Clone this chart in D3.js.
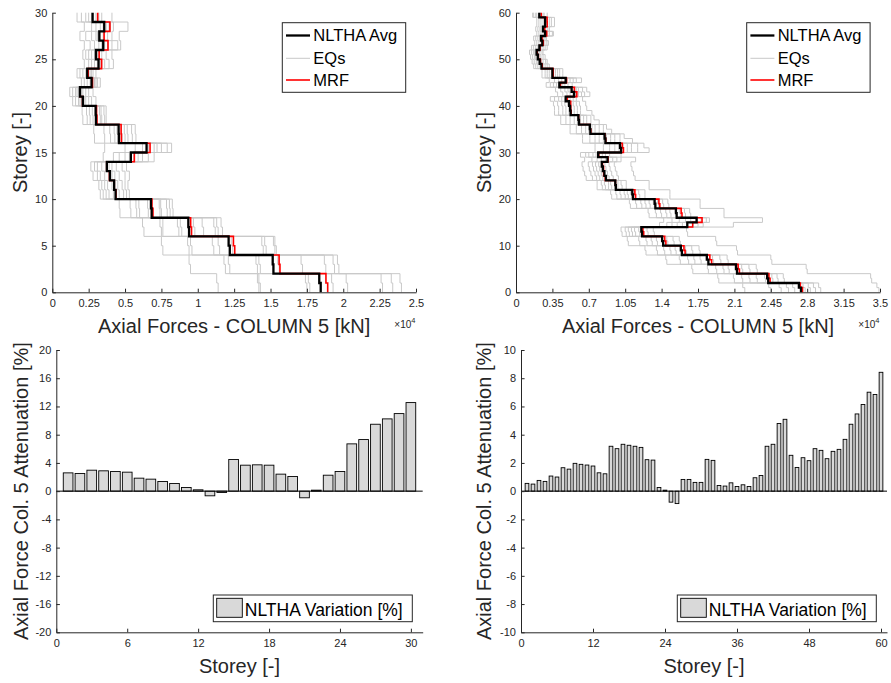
<!DOCTYPE html>
<html>
<head>
<meta charset="utf-8">
<script src="https://cdn.jsdelivr.net/npm/d3@7"></script>
<style>
  body { margin: 0; background: #fff; }
  svg { display: block; }
</style>
</head>
<body>
<svg id="fig" width="891" height="683"></svg>
<script>
// ---------------- data (axial forces in 1e4 kN, variation in %) ----------------

// 30-storey building: NLTHA average and MRF envelope, storey 1..30
const avgL = [1.845, 1.835, 1.52, 1.515, 1.22, 1.212, 0.94, 0.935, 0.683, 0.678,
              0.435, 0.425, 0.396, 0.375, 0.54, 0.648, 0.458, 0.456, 0.30, 0.298,
              0.21, 0.19, 0.27, 0.24, 0.318, 0.30, 0.35, 0.323, 0.357, 0.277];
const mrfL = [1.893, 1.881, 1.565, 1.559, 1.254, 1.245, 0.957, 0.951, 0.692, 0.685,
              0.437, 0.426, 0.393, 0.374, 0.564, 0.672, 0.475, 0.473, 0.307, 0.304,
              0.208, 0.190, 0.276, 0.247, 0.339, 0.322, 0.383, 0.356, 0.396, 0.312];
// per-storey values of the 10 ground motions (rows = storey 1..30)
const eqRowsL = [
  [1.14, 1.42, 1.43, 1.75, 1.77, 1.93, 2.03, 2.27, 2.34, 2.40],
  [1.13, 1.41, 1.42, 1.74, 1.76, 1.92, 2.02, 2.26, 2.33, 2.39],
  [0.95, 1.19, 1.22, 1.41, 1.43, 1.56, 1.72, 1.88, 1.94, 1.97],
  [0.94, 1.18, 1.21, 1.40, 1.42, 1.55, 1.71, 1.87, 1.93, 1.96],
  [0.76, 0.94, 0.96, 1.11, 1.15, 1.24, 1.45, 1.47, 1.53, 1.54],
  [0.75, 0.93, 0.95, 1.10, 1.14, 1.23, 1.44, 1.46, 1.52, 1.53],
  [0.63, 0.75, 0.76, 0.87, 0.89, 0.98, 1.04, 1.12, 1.14, 1.17],
  [0.62, 0.74, 0.76, 0.86, 0.88, 0.97, 1.03, 1.11, 1.13, 1.16],
  [0.465, 0.54, 0.58, 0.60, 0.66, 0.74, 0.75, 0.79, 0.81, 0.83],
  [0.46, 0.535, 0.575, 0.595, 0.655, 0.735, 0.745, 0.785, 0.805, 0.825],
  [0.33, 0.35, 0.37, 0.39, 0.42, 0.44, 0.46, 0.49, 0.51, 0.53],
  [0.32, 0.34, 0.36, 0.38, 0.41, 0.43, 0.45, 0.48, 0.50, 0.52],
  [0.28, 0.31, 0.33, 0.36, 0.39, 0.41, 0.43, 0.46, 0.50, 0.53],
  [0.265, 0.29, 0.31, 0.34, 0.37, 0.39, 0.41, 0.44, 0.48, 0.51],
  [0.35, 0.42, 0.46, 0.50, 0.53, 0.56, 0.59, 0.62, 0.66, 0.70],
  [0.36, 0.50, 0.57, 0.62, 0.66, 0.70, 0.72, 0.75, 0.79, 0.82],
  [0.29, 0.36, 0.40, 0.43, 0.45, 0.48, 0.50, 0.52, 0.55, 0.575],
  [0.285, 0.355, 0.395, 0.425, 0.445, 0.475, 0.495, 0.515, 0.545, 0.57],
  [0.21, 0.24, 0.26, 0.28, 0.30, 0.31, 0.33, 0.34, 0.36, 0.37],
  [0.205, 0.235, 0.255, 0.275, 0.295, 0.305, 0.325, 0.335, 0.355, 0.37],
  [0.14, 0.16, 0.18, 0.19, 0.20, 0.22, 0.23, 0.25, 0.27, 0.30],
  [0.12, 0.14, 0.16, 0.17, 0.18, 0.20, 0.21, 0.23, 0.25, 0.28],
  [0.20, 0.22, 0.24, 0.26, 0.27, 0.28, 0.29, 0.30, 0.31, 0.33],
  [0.17, 0.19, 0.21, 0.23, 0.24, 0.25, 0.26, 0.27, 0.28, 0.30],
  [0.22, 0.25, 0.27, 0.29, 0.31, 0.33, 0.34, 0.36, 0.39, 0.42],
  [0.21, 0.23, 0.25, 0.27, 0.29, 0.31, 0.32, 0.34, 0.37, 0.41],
  [0.22, 0.26, 0.29, 0.32, 0.34, 0.36, 0.38, 0.41, 0.45, 0.47],
  [0.19, 0.23, 0.27, 0.30, 0.31, 0.33, 0.35, 0.38, 0.41, 0.46],
  [0.22, 0.27, 0.30, 0.33, 0.35, 0.37, 0.39, 0.40, 0.42, 0.52],
  [0.17, 0.20, 0.23, 0.25, 0.27, 0.28, 0.30, 0.32, 0.34, 0.41]
];
const pctL = [2.59, 2.50, 2.97, 2.88, 2.78, 2.69, 1.84, 1.70, 1.37, 1.08,
              0.52, 0.19, -0.66, -0.19, 4.48, 3.68, 3.73, 3.68, 2.41, 2.08,
              -0.94, 0.14, 2.26, 2.78, 6.70, 7.31, 9.48, 10.24, 10.99, 12.55];

// 60-storey building, storey 1..60
const avgR = [2.74, 2.72, 2.425, 2.415, 2.125, 2.115, 1.85, 1.835, 1.595, 1.585,
              1.415, 1.405, 1.212, 1.205, 1.647, 1.737, 1.545, 1.538, 1.34, 1.333,
              1.125, 1.118, 0.96, 0.955, 0.865, 0.85, 0.835, 0.825, 0.88, 0.79,
              1.01, 1.0, 0.86, 0.852, 0.715, 0.71, 0.605, 0.60, 0.525, 0.52,
              0.51, 0.478, 0.558, 0.535, 0.417, 0.478, 0.35, 0.35, 0.245, 0.228,
              0.21, 0.198, 0.225, 0.253, 0.24, 0.28, 0.26, 0.28, 0.28, 0.224];
const mrfR = [2.755, 2.734, 2.443, 2.432, 2.148, 2.136, 1.881, 1.864, 1.626, 1.615,
              1.441, 1.430, 1.228, 1.220, 1.699, 1.789, 1.596, 1.588, 1.383, 1.374,
              1.150, 1.143, 0.962, 0.956, 0.858, 0.843, 0.842, 0.832, 0.885, 0.795,
              1.033, 1.022, 0.863, 0.855, 0.719, 0.712, 0.608, 0.602, 0.530, 0.526,
              0.526, 0.494, 0.585, 0.562, 0.428, 0.486, 0.358, 0.358, 0.252, 0.235,
              0.215, 0.204, 0.232, 0.262, 0.251, 0.295, 0.276, 0.300, 0.299, 0.243];
const eqRowsR = [
  [2.20, 2.45, 2.55, 2.62, 2.68, 2.78, 2.83, 2.88, 2.93, 3.49],
  [2.18, 2.43, 2.53, 2.60, 2.66, 2.76, 2.81, 2.86, 2.91, 3.47],
  [1.95, 2.10, 2.18, 2.25, 2.32, 2.40, 2.47, 2.52, 2.58, 3.42],
  [1.94, 2.09, 2.17, 2.24, 2.31, 2.39, 2.46, 2.51, 2.57, 3.41],
  [1.70, 1.85, 1.93, 2.00, 2.05, 2.12, 2.18, 2.25, 2.32, 2.80],
  [1.69, 1.84, 1.92, 1.99, 2.04, 2.11, 2.17, 2.24, 2.31, 2.79],
  [1.45, 1.58, 1.66, 1.72, 1.78, 1.84, 1.90, 1.97, 2.04, 2.46],
  [1.44, 1.57, 1.65, 1.71, 1.77, 1.83, 1.89, 1.96, 2.03, 2.45],
  [1.25, 1.36, 1.43, 1.49, 1.54, 1.59, 1.64, 1.70, 1.77, 2.13],
  [1.24, 1.35, 1.42, 1.48, 1.53, 1.58, 1.63, 1.69, 1.76, 2.12],
  [1.08, 1.19, 1.26, 1.31, 1.36, 1.41, 1.46, 1.52, 1.58, 1.93],
  [1.07, 1.18, 1.25, 1.30, 1.35, 1.40, 1.45, 1.51, 1.57, 1.92],
  [1.02, 1.06, 1.09, 1.12, 1.15, 1.19, 1.22, 1.27, 1.33, 1.65],
  [1.01, 1.05, 1.08, 1.11, 1.14, 1.18, 1.21, 1.26, 1.32, 1.64],
  [1.38, 1.45, 1.50, 1.55, 1.60, 1.65, 1.70, 1.75, 1.80, 2.09],
  [1.42, 1.50, 1.57, 1.63, 1.68, 1.73, 1.78, 1.83, 1.86, 2.37],
  [1.28, 1.35, 1.40, 1.45, 1.49, 1.54, 1.58, 1.63, 1.68, 2.00],
  [1.27, 1.34, 1.39, 1.44, 1.48, 1.53, 1.57, 1.62, 1.67, 2.00],
  [1.10, 1.16, 1.21, 1.25, 1.29, 1.33, 1.37, 1.42, 1.47, 1.77],
  [1.09, 1.15, 1.20, 1.24, 1.28, 1.32, 1.36, 1.41, 1.46, 1.77],
  [0.92, 0.97, 1.01, 1.05, 1.08, 1.11, 1.15, 1.19, 1.24, 1.48],
  [0.91, 0.96, 1.00, 1.04, 1.07, 1.10, 1.14, 1.18, 1.24, 1.48],
  [0.78, 0.83, 0.86, 0.89, 0.92, 0.95, 0.98, 1.02, 1.06, 1.28],
  [0.78, 0.82, 0.85, 0.89, 0.91, 0.95, 0.98, 1.01, 1.06, 1.28],
  [0.675, 0.735, 0.775, 0.805, 0.835, 0.865, 0.895, 0.935, 0.985, 1.145],
  [0.66, 0.72, 0.76, 0.79, 0.82, 0.85, 0.88, 0.92, 0.97, 1.13],
  [0.645, 0.705, 0.745, 0.775, 0.805, 0.835, 0.865, 0.905, 0.955, 1.115],
  [0.635, 0.695, 0.735, 0.765, 0.795, 0.825, 0.855, 0.895, 0.945, 1.105],
  [0.66, 0.73, 0.78, 0.82, 0.86, 0.89, 0.93, 0.97, 1.01, 1.15],
  [0.62, 0.67, 0.70, 0.74, 0.77, 0.80, 0.83, 0.86, 0.90, 1.01],
  [0.76, 0.84, 0.90, 0.95, 0.99, 1.03, 1.07, 1.11, 1.17, 1.28],
  [0.76, 0.84, 0.90, 0.95, 0.99, 1.03, 1.07, 1.11, 1.17, 1.23],
  [0.64, 0.71, 0.76, 0.80, 0.84, 0.87, 0.91, 0.95, 1.00, 1.12],
  [0.64, 0.71, 0.76, 0.80, 0.84, 0.87, 0.91, 0.95, 1.00, 1.04],
  [0.52, 0.58, 0.63, 0.67, 0.70, 0.73, 0.76, 0.80, 0.84, 0.92],
  [0.52, 0.58, 0.63, 0.67, 0.70, 0.73, 0.76, 0.80, 0.84, 0.87],
  [0.43, 0.48, 0.52, 0.56, 0.59, 0.62, 0.65, 0.68, 0.72, 0.80],
  [0.43, 0.48, 0.52, 0.56, 0.59, 0.62, 0.65, 0.68, 0.72, 0.75],
  [0.37, 0.41, 0.45, 0.48, 0.51, 0.53, 0.56, 0.59, 0.62, 0.73],
  [0.37, 0.41, 0.45, 0.48, 0.51, 0.53, 0.56, 0.59, 0.62, 0.68],
  [0.36, 0.40, 0.44, 0.47, 0.50, 0.52, 0.55, 0.58, 0.61, 0.67],
  [0.33, 0.37, 0.41, 0.44, 0.47, 0.49, 0.52, 0.55, 0.58, 0.64],
  [0.40, 0.45, 0.49, 0.52, 0.55, 0.57, 0.60, 0.63, 0.66, 0.71],
  [0.38, 0.43, 0.47, 0.50, 0.52, 0.55, 0.58, 0.60, 0.64, 0.68],
  [0.29, 0.33, 0.36, 0.39, 0.41, 0.43, 0.45, 0.47, 0.50, 0.54],
  [0.32, 0.37, 0.41, 0.44, 0.47, 0.49, 0.52, 0.55, 0.58, 0.63],
  [0.25, 0.28, 0.30, 0.32, 0.34, 0.36, 0.38, 0.40, 0.42, 0.45],
  [0.25, 0.28, 0.30, 0.32, 0.34, 0.36, 0.38, 0.40, 0.42, 0.45],
  [0.17, 0.19, 0.21, 0.23, 0.24, 0.25, 0.26, 0.28, 0.30, 0.32],
  [0.155, 0.175, 0.195, 0.21, 0.22, 0.235, 0.245, 0.26, 0.285, 0.30],
  [0.14, 0.16, 0.18, 0.19, 0.20, 0.22, 0.23, 0.24, 0.26, 0.28],
  [0.13, 0.15, 0.17, 0.18, 0.19, 0.20, 0.22, 0.23, 0.25, 0.26],
  [0.15, 0.17, 0.19, 0.21, 0.22, 0.23, 0.24, 0.26, 0.28, 0.30],
  [0.18, 0.20, 0.22, 0.24, 0.25, 0.26, 0.27, 0.29, 0.31, 0.31],
  [0.17, 0.19, 0.21, 0.23, 0.24, 0.25, 0.26, 0.27, 0.29, 0.29],
  [0.20, 0.22, 0.24, 0.26, 0.27, 0.28, 0.30, 0.32, 0.35, 0.36],
  [0.19, 0.21, 0.23, 0.24, 0.25, 0.26, 0.28, 0.30, 0.32, 0.32],
  [0.20, 0.22, 0.24, 0.26, 0.27, 0.28, 0.30, 0.32, 0.34, 0.37],
  [0.20, 0.22, 0.24, 0.26, 0.27, 0.28, 0.30, 0.32, 0.34, 0.37],
  [0.16, 0.17, 0.19, 0.20, 0.22, 0.23, 0.24, 0.26, 0.27, 0.30]
];
const pctR = [0.55, 0.50, 0.76, 0.69, 1.07, 1.00, 1.66, 1.56, 1.97, 1.90,
              1.85, 1.78, 1.30, 1.23, 3.18, 3.01, 3.32, 3.25, 3.18, 3.10,
              2.23, 2.20, 0.26, 0.07, -0.78, -0.88, 0.83, 0.83, 0.62, 0.62,
              2.25, 2.18, 0.40, 0.36, 0.59, 0.33, 0.45, 0.33, 0.95, 1.11,
              3.18, 3.32, 4.79, 5.09, 2.54, 1.68, 2.37, 2.16, 3.01, 2.89,
              2.30, 2.82, 2.96, 3.67, 4.74, 5.47, 6.14, 7.01, 6.85, 8.42];

// tick values and labels
const xTicksL = [0, 0.25, 0.5, 0.75, 1, 1.25, 1.5, 1.75, 2, 2.25, 2.5];
const xLabelsL = ["0", "0.25", "0.5", "0.75", "1", "1.25", "1.5", "1.75", "2", "2.25", "2.5"];
const xTicksR = [0, 0.35, 0.7, 1.05, 1.4, 1.75, 2.1, 2.45, 2.8, 3.15, 3.5];
const xLabelsR = ["0", "0.35", "0.7", "1.05", "1.4", "1.75", "2.1", "2.45", "2.8", "3.15", "3.5"];
const yTicksL = [0, 5, 10, 15, 20, 25, 30];
const yTicksR = [0, 10, 20, 30, 40, 50, 60];
const barXTicksL = [0, 6, 12, 18, 24, 30];
const barXTicksR = [0, 12, 24, 36, 48, 60];
const barYTicksL = [-20, -16, -12, -8, -4, 0, 4, 8, 12, 16, 20];
const barYTicksR = [-10, -8, -6, -4, -2, 0, 2, 4, 6, 8, 10];

// ---------------- drawing ----------------
const FONT = "'Liberation Sans', Arial, Helvetica, sans-serif";
const INK = "#262626";
const EQ_GREY = "#c9c9c9";
const svg = d3.select("#fig");

function drawAxes(g, x, y, xt, xfmt, yt, yfmt) {
  const ax = g.append("g")
    .attr("transform", `translate(0,${y.range()[0]})`)
    .call(d3.axisBottom(x).tickValues(xt).tickFormat(xfmt)
      .tickSize(-3.6).tickSizeOuter(0).tickPadding(7));
  const ay = g.append("g")
    .attr("transform", `translate(${x.range()[0]},0)`)
    .call(d3.axisLeft(y).tickValues(yt).tickFormat(yfmt)
      .tickSize(-3.6).tickSizeOuter(0).tickPadding(5));
  [ax, ay].forEach(a => {
    a.attr("font-family", FONT).attr("font-size", 11);
    a.select(".domain").attr("stroke", INK);
    a.selectAll(".tick line").attr("stroke", INK);
    a.selectAll(".tick text").attr("fill", INK);
  });
}

function axisTitle(g, txt, x, y, rotate) {
  g.append("text")
    .attr("transform", `translate(${x},${y})` + (rotate ? " rotate(-90)" : ""))
    .attr("text-anchor", "middle")
    .attr("font-family", FONT).attr("font-size", 20).attr("fill", INK)
    .text(txt);
}

function stairs(vals, x, y) {
  const pts = [];
  vals.forEach((v, i) => { pts.push([v, i]); pts.push([v, i + 1]); });
  return d3.line().x(d => x(d[0])).y(d => y(d[1]))(pts);
}

function profilePanel(opt) {
  const g = svg.append("g");
  const x = d3.scaleLinear().domain([0, opt.xmax]).range(opt.xr);
  const y = d3.scaleLinear().domain([0, opt.ymax]).range(opt.yr);
  const nEq = opt.eqRows[0].length;
  const eqSeries = d3.range(nEq).map(k => opt.eqRows.map(r => r[k]));

  g.append("g").selectAll("path").data(eqSeries).join("path")
    .attr("d", d => stairs(d, x, y))
    .attr("fill", "none").attr("stroke", EQ_GREY).attr("stroke-width", 1);
  g.append("path").attr("d", stairs(opt.mrf, x, y))
    .attr("fill", "none").attr("stroke", "#ff0000").attr("stroke-width", 1.6);
  g.append("path").attr("d", stairs(opt.avg, x, y))
    .attr("fill", "none").attr("stroke", "#000").attr("stroke-width", 2.3)
    .attr("stroke-linejoin", "miter");

  drawAxes(g, x, y, opt.xt, (d, i) => opt.xl[i], opt.yt, d => d);
  axisTitle(g, "Axial Forces - COLUMN 5 [kN]", (opt.xr[0] + opt.xr[1]) / 2, 333, false);
  axisTitle(g, "Storey [-]", opt.ylabX, (opt.yr[0] + opt.yr[1]) / 2, true);

  // exponent note
  const ex = g.append("text").attr("x", opt.xr[1] - 0.5).attr("y", 328)
    .attr("text-anchor", "end").attr("font-family", FONT).attr("fill", INK);
  ex.append("tspan").attr("font-size", 10).text("\u00d710");
  ex.append("tspan").attr("font-size", 7.5).attr("dy", -5).text("4");

  // legend
  const L = opt.legend;
  const lg = g.append("g");
  lg.append("rect").attr("x", L.x).attr("y", 22.7).attr("width", 123.4).attr("height", 69.6)
    .attr("fill", "#fff").attr("stroke", INK).attr("stroke-width", 1);
  const items = [
    { t: "NLTHA Avg", c: "#000", w: 2.3, y: 35.5 },
    { t: "EQs", c: EQ_GREY, w: 1, y: 58.3 },
    { t: "MRF", c: "#ff0000", w: 1.6, y: 80 }
  ];
  items.forEach(it => {
    lg.append("line").attr("x1", L.x + 3.7).attr("x2", L.x + 27.7)
      .attr("y1", it.y).attr("y2", it.y).attr("stroke", it.c).attr("stroke-width", it.w);
    lg.append("text").attr("x", L.x + 31).attr("y", it.y).attr("dy", "0.36em")
      .attr("font-family", FONT).attr("font-size", 16.5).attr("fill", "#000").text(it.t);
  });
}

function barPanel(opt) {
  const g = svg.append("g");
  const x = d3.scaleLinear().domain([0, opt.xmax]).range(opt.xr);
  const y = d3.scaleLinear().domain([-opt.ymax, opt.ymax]).range(opt.yr);
  const bw = (x(1) - x(0)) * opt.bw;
  const recs = opt.pct.map((v, i) => ({ s: i + 1, v }));

  g.append("g").selectAll("rect").data(recs).join("rect")
    .attr("x", d => x(d.s) - bw / 2)
    .attr("width", bw)
    .attr("y", d => y(Math.max(0, d.v)))
    .attr("height", d => Math.abs(y(d.v) - y(0)))
    .attr("fill", "#d9d9d9").attr("stroke", "#000").attr("stroke-width", 0.9);

  g.append("line").attr("x1", opt.xr[0]).attr("x2", opt.xr[1])
    .attr("y1", y(0)).attr("y2", y(0)).attr("stroke", "#000").attr("stroke-width", 1);

  drawAxes(g, x, y, opt.xt, d => d, opt.yt, d => d);
  axisTitle(g, "Storey [-]", (opt.xr[0] + opt.xr[1]) / 2, 673, false);
  axisTitle(g, "Axial Force Col. 5 Attenuation [%]", opt.ylabX, (opt.yr[0] + opt.yr[1]) / 2, true);

  const L = opt.legend;
  const lg = g.append("g");
  lg.append("rect").attr("x", L.x).attr("y", 595).attr("width", 199).attr("height", 26.7)
    .attr("fill", "#fff").attr("stroke", INK).attr("stroke-width", 1);
  lg.append("rect").attr("x", L.x + 3.4).attr("y", 598.3).attr("width", 25.6).attr("height", 19)
    .attr("fill", "#d9d9d9").attr("stroke", "#000").attr("stroke-width", 0.9);
  lg.append("text").attr("x", L.x + 31.5).attr("y", 609.3).attr("dy", "0.36em")
    .attr("font-family", FONT).attr("font-size", 17.5).attr("fill", "#000")
    .text("NLTHA Variation [%]");
}

profilePanel({
  avg: avgL, mrf: mrfL, eqRows: eqRowsL,
  xmax: 2.5, ymax: 30, xr: [52.3, 416], yr: [292.3, 12.7],
  xt: xTicksL, xl: xLabelsL, yt: yTicksL, ylabX: 27, legend: { x: 282.3 }
});
profilePanel({
  avg: avgR, mrf: mrfR, eqRows: eqRowsR,
  xmax: 3.5, ymax: 60, xr: [516, 880], yr: [292.3, 12.7],
  xt: xTicksR, xl: xLabelsR, yt: yTicksR, ylabX: 491, legend: { x: 746.7 }
});
barPanel({
  pct: pctL, xmax: 31, ymax: 20, xr: [56.3, 422.7], yr: [632.3, 350],
  xt: barXTicksL, yt: barYTicksL, bw: 0.82, ylabX: 27.5, legend: { x: 213.3 }
});
barPanel({
  pct: pctR, xmax: 61, ymax: 10, xr: [521, 887], yr: [632.3, 350],
  xt: barXTicksR, yt: barYTicksR, bw: 0.62, ylabX: 491, legend: { x: 677.3 }
});
</script>
</body>
</html>
